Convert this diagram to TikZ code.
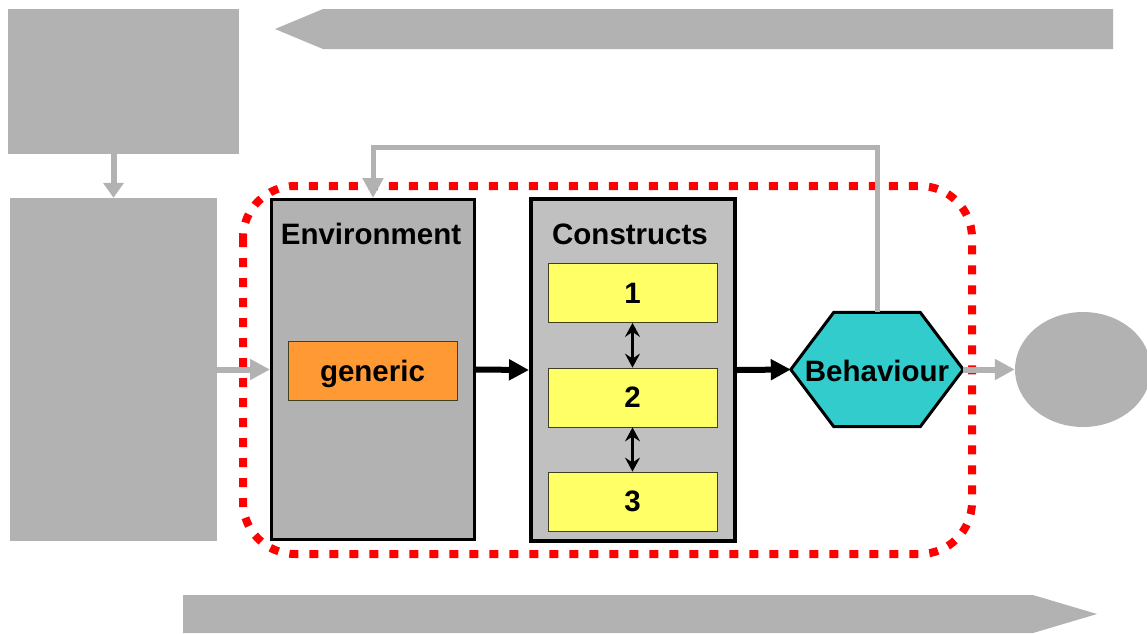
\documentclass[tikz,border=0pt]{standalone}
\usepackage{fontspec}
\setmainfont{Liberation Sans}
\usetikzlibrary{shapes.geometric,arrows.meta,calc}
\definecolor{gshade}{HTML}{B2B2B2}
\definecolor{cgray}{HTML}{C0C0C0}
\definecolor{yel}{HTML}{FFFF66}
\definecolor{org}{HTML}{FF9933}
\definecolor{teal2}{HTML}{33CCCC}
\definecolor{olive2}{HTML}{404020}
\tikzset{
  lbl/.style={font=\fontsize{29.5}{34}\selectfont\bfseries, inner sep=0pt},
  gblock/.style={fill=gshade, draw=none, inner sep=0pt},
  panel/.style={draw=black, line width=3pt, inner sep=0pt},
  ybox/.style={fill=yel, draw=olive2, line width=0.8pt, minimum width=169pt, minimum height=59pt, inner sep=0pt,
    font=\fontsize{29.5}{34}\selectfont\bfseries, text depth=-5pt},
  garrow/.style={draw=gshade, line width=6pt, -{Triangle[length=20pt,width=20pt]}},
  barrow/.style={draw=black, line width=6pt, -{Triangle[length=20pt,width=20pt]}},
  darrow/.style={draw=black, line width=2.4pt, {Stealth[length=14pt,width=15pt,inset=5pt]}-{Stealth[length=14pt,width=15pt,inset=5pt]}},
}
\begin{document}
\begin{tikzpicture}[x=1pt,y=-1pt]
\useasboundingbox (0,0) rectangle (1147,633);
% top and bottom banner arrows
\fill[gshade] (275,29) -- (323,9) -- (1113,9) -- (1113,49) -- (323,49) -- cycle;
\fill[gshade] (183,595) -- (1033,595) -- (1097,614) -- (1033,633) -- (183,633) -- cycle;
% gray blocks
\node[gblock, minimum width=231pt, minimum height=145pt] (tl) at (123.5,81.5) {};
\node[gblock, minimum width=207pt, minimum height=343pt] (lb) at (113.5,369.5) {};
\node[gblock, ellipse, minimum width=136pt, minimum height=115pt] (ell) at (1083,369.5) {};
% red dotted boundary
\draw[red, line width=8pt, dash pattern=on 9pt off 11pt, rounded corners=52pt] (243,186) rectangle (972,554);
% Environment panel
\node[panel, fill=gshade, minimum width=203pt, minimum height=340pt] (env) at (373,369.5) {};
\node[lbl] (envt) at (371,234) {Environment};
\node[fill=org, draw=olive2, line width=0.8pt, minimum width=169pt, minimum height=59pt, inner sep=0pt,
  font=\fontsize{29.5}{34}\selectfont\bfseries, text depth=-2pt] (gen) at (372.5,370.5) {generic};
% Constructs panel
\node[panel, line width=4pt, fill=cgray, minimum width=204pt, minimum height=342pt] (con) at (633,370) {};
\node[lbl] (cont) at (630,234) {Constructs};
\node[ybox] (c1) at (632.5,293) {1};
\node[ybox] (c2) at (632.5,397.5) {2};
\node[ybox] (c3) at (632.5,501.5) {3};
\draw[darrow] (c1.south) -- (c2.north);
\draw[darrow] (c2.south) -- (c3.north);
% Behaviour hexagon
\node[minimum width=172pt, minimum height=114pt, inner sep=0pt] (beh) at (877,369.5) {};
\draw[fill=teal2, draw=black, line width=3pt, line join=miter]
  (beh.west) -- ([xshift=43pt]beh.north west) -- ([xshift=-43pt]beh.north east) -- (beh.east)
  -- ([xshift=-43pt]beh.south east) -- ([xshift=43pt]beh.south west) -- cycle;
\node[lbl] (beht) at (877,371) {Behaviour};
% connectors
\draw[garrow, -{Triangle[length=15pt,width=20pt]}] (tl.south -| lb.north) -- (lb.north);
\draw[garrow] (lb.east) -- (env.west);
\draw[barrow] (env.east) -- (con.west);
\draw[barrow] (con.east) -- (beh.west);
\draw[garrow] (beh.east) -- (ell.west);
\coordinate (fbtop) at (0,147);
\draw[garrow, line width=5pt] (beh.north) -- (beh.north |- fbtop) -| (env.north);
\end{tikzpicture}
\end{document}
